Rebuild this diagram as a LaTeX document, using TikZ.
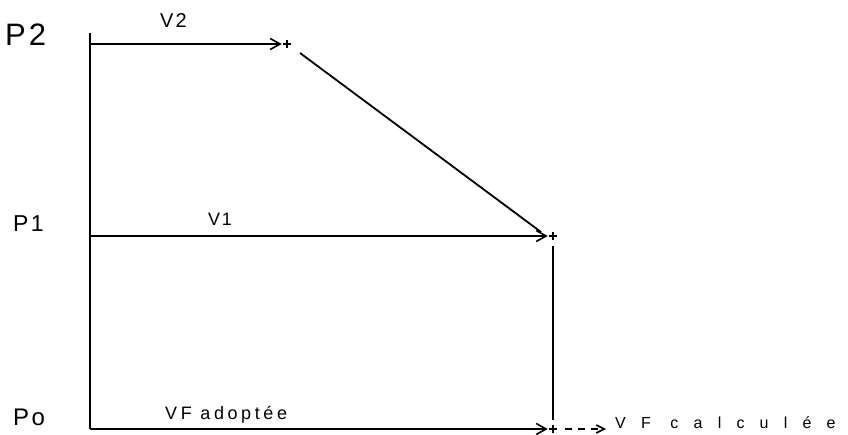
\documentclass[tikz,border=0pt]{standalone}
\usepackage{fontspec}
\setmainfont{Liberation Sans}
\newfontfamily\handA[LetterSpace=10]{Liberation Sans}
\newfontfamily\handB[LetterSpace=20]{Liberation Sans}
\newfontfamily\handC[LetterSpace=95]{Liberation Sans}
\usetikzlibrary{arrows.meta}
\begin{document}
\begin{tikzpicture}[x=1pt,y=-1pt,
  lbl/.style={inner sep=0pt, anchor=base west},
  tick/.style={inner sep=0pt, minimum size=10pt},
  arr/.style={line width=1.8pt, -{Straight Barb[length=10pt,width=11pt,line width=1.6pt]}},
  ln/.style={line width=1.8pt}]
\useasboundingbox[fill=white] (0,0) rectangle (848,435);
% plus marks
\node[tick] (t2) at (287,44) {};
\node[tick] (t1) at (553,236) {};
\node[tick] (t0) at (553,429) {};
\foreach \n in {t2,t1,t0}{
  \draw[line width=2pt] (\n.north) ++(0,1) -- ++(0,8);
  \draw[line width=2pt] (\n.west) ++(1,0) -- ++(8,0);
}
% axis
\coordinate (top) at (90,33);
\coordinate (bot) at (90,429);
\coordinate (a2) at (90,44);
\coordinate (a1) at (90,236);
\draw[ln] (top) -- (bot);
% arrows
\draw[arr] (a2) -- (t2.west);
\draw[arr] (a1) -- (t1.west);
\draw[arr] (bot) -- (t0.west);
% diagonal and vertical
\coordinate (d1) at (300,53);
\coordinate (d2) at (541,232);
\draw[ln] (d1) -- (d2);
\coordinate (v1) at (553,246);
\coordinate (v2) at (553,420);
\draw[ln] (v1) -- (v2);
% dashed arrow
\coordinate (e1) at (565,429);
\coordinate (e2) at (606,429);
\draw[ln, dash pattern=on 7pt off 6pt, -{Straight Barb[length=8pt,width=8pt,line width=1.6pt]}] (e1) -- (e2);
% labels
\node[lbl, font=\handA\fontsize{31}{33}\selectfont] (p2) at (5,46) {P2};
\node[lbl, font=\handA\fontsize{23}{25}\selectfont] (p1) at (13,232) {P1};
\node[lbl, font=\handA\fontsize{24}{26}\selectfont] (p0) at (13,425) {Po};
\node[lbl, font=\handA\fontsize{20}{22}\selectfont] (lv2) at (160,28) {V2};
\node[lbl, font=\handA\fontsize{18}{20}\selectfont] (lv1) at (208,226) {V1};
\node[lbl, font=\handB\fontsize{18}{20}\selectfont] (lvf) at (165,419) {VF adoptée};
\node[lbl, font=\handC\fontsize{16}{18}\selectfont] (lvc) at (615,428) {VF calculée};
\end{tikzpicture}
\end{document}
